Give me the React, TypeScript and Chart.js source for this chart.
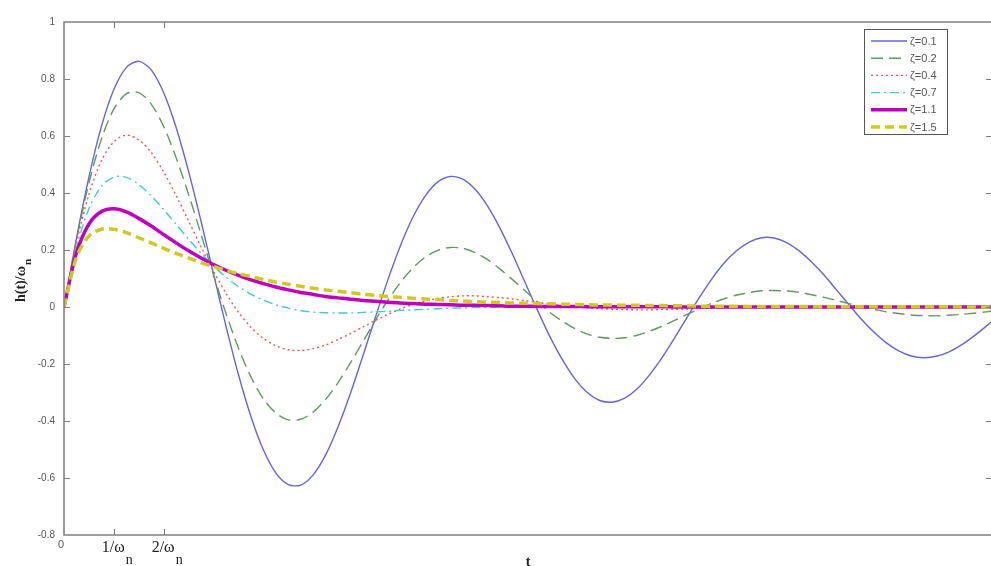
import React, { useEffect, useRef } from "react";
import { Chart, registerables } from "chart.js";

Chart.register(...registerables);

// time samples (t, with ωn = 1), one row per unit of t
const T = [
  0, 0.25, 0.5, 0.75, 1, 1.25, 1.5, 1.75, 2, 2.25, 2.5, 2.75, 3, 3.25, 3.5, 3.75,
  4, 4.25, 4.5, 4.75, 5, 5.25, 5.5, 5.75, 6, 6.25, 6.5, 6.75, 7, 7.25, 7.5, 7.75,
  8, 8.25, 8.5, 8.75, 9, 9.25, 9.5, 9.75, 10, 10.25, 10.5, 10.75, 11, 11.25, 11.5, 11.75,
  12, 12.25, 12.5, 12.75, 13, 13.25, 13.5, 13.75, 14, 14.25, 14.5, 14.75, 15, 15.25, 15.5, 15.75,
  16, 16.25, 16.5, 16.75, 17, 17.25, 17.5, 17.75, 18, 18.25, 18.5, 18.75, 19,
];

// h(t)/ωn for each damping ratio
const Z01 = [
  0, 0.241, 0.456, 0.633, 0.763, 0.84, 0.862, 0.832, 0.752, 0.63, 0.476, 0.301, 0.116, -0.067, -0.237, -0.384,
  -0.501, -0.582, -0.623, -0.625, -0.589, -0.519, -0.42, -0.302, -0.17, -0.035, 0.096, 0.215, 0.315, 0.39, 0.439, 0.458,
  0.449, 0.413, 0.354, 0.276, 0.185, 0.087, -0.011, -0.104, -0.185, -0.252, -0.3, -0.328, -0.334, -0.32, -0.287, -0.238,
  -0.178, -0.109, -0.037, 0.034, 0.099, 0.155, 0.198, 0.228, 0.243, 0.242, 0.226, 0.197, 0.158, 0.112, 0.06, 0.008,
  -0.043, -0.088, -0.126, -0.154, -0.172, -0.178, -0.173, -0.158, -0.134, -0.103, -0.068, -0.03, 0.008,
];
const Z02 = [
  0, 0.235, 0.435, 0.589, 0.694, 0.748, 0.752, 0.712, 0.633, 0.524, 0.395, 0.255, 0.113, -0.023, -0.144, -0.245,
  -0.322, -0.372, -0.396, -0.394, -0.369, -0.324, -0.265, -0.195, -0.121, -0.046, 0.024, 0.086, 0.137, 0.175, 0.199, 0.209,
  0.206, 0.191, 0.166, 0.133, 0.096, 0.057, 0.018, -0.019, -0.05, -0.076, -0.095, -0.106, -0.11, -0.108, -0.099, -0.085,
  -0.067, -0.047, -0.026, -0.006, 0.013, 0.029, 0.042, 0.051, 0.057, 0.058, 0.056, 0.051, 0.043, 0.034, 0.023, 0.012,
  0.001, -0.008, -0.017, -0.023, -0.028, -0.03, -0.031, -0.029, -0.026, -0.022, -0.017, -0.011, -0.005,
];
const Z04 = [
  0, 0.224, 0.395, 0.513, 0.58, 0.603, 0.587, 0.542, 0.474, 0.391, 0.302, 0.211, 0.125, 0.048, -0.018, -0.071,
  -0.11, -0.136, -0.15, -0.153, -0.146, -0.133, -0.114, -0.093, -0.07, -0.047, -0.026, -0.007, 0.009, 0.021, 0.03, 0.036,
  0.039, 0.039, 0.036, 0.033, 0.028, 0.022, 0.016, 0.01, 0.005, 0.001, -0.003, -0.006, -0.008, -0.009, -0.01, -0.01,
  -0.009, -0.008, -0.007, -0.005, -0.004, -0.002, -0.001, 0, 0.001, 0.002, 0.002, 0.002, 0.003, 0.002, 0.002, 0.002,
  0.002, 0.001, 0.001, 0.001, 0, 0, 0, 0, -0.001, -0.001, -0.001, -0.001, 0,
];
const Z07 = [
  0, 0.209, 0.345, 0.423, 0.456, 0.455, 0.43, 0.39, 0.342, 0.29, 0.238, 0.189, 0.144, 0.105, 0.072, 0.045,
  0.024, 0.008, -0.004, -0.013, -0.018, -0.02, -0.021, -0.021, -0.019, -0.017, -0.015, -0.012, -0.01, -0.008, -0.006, -0.004,
  -0.003, -0.002, -0.001, 0, 0, 0.001, 0.001, 0.001, 0.001, 0.001, 0.001, 0.001, 0.001, 0, 0, 0,
  0, 0, 0, 0, 0, 0, 0, 0, 0, 0, 0, 0, 0, 0, 0, 0,
  0, 0, 0, 0, 0, 0, 0, 0, 0, 0, 0, 0, 0,
];
const Z11 = [
  0, 0.19, 0.291, 0.335, 0.345, 0.334, 0.311, 0.284, 0.254, 0.225, 0.197, 0.172, 0.149, 0.129, 0.111, 0.095,
  0.082, 0.07, 0.06, 0.051, 0.044, 0.037, 0.032, 0.027, 0.023, 0.02, 0.017, 0.014, 0.012, 0.01, 0.009, 0.008,
  0.006, 0.006, 0.005, 0.004, 0.003, 0.003, 0.002, 0.002, 0.002, 0.002, 0.001, 0.001, 0.001, 0.001, 0.001, 0.001,
  0.001, 0, 0, 0, 0, 0, 0, 0, 0, 0, 0, 0, 0, 0, 0, 0,
  0, 0, 0, 0, 0, 0, 0, 0, 0, 0, 0, 0, 0,
];
const Z15 = [
  0, 0.174, 0.249, 0.273, 0.273, 0.261, 0.243, 0.225, 0.206, 0.188, 0.172, 0.156, 0.142, 0.129, 0.117, 0.107,
  0.097, 0.088, 0.08, 0.073, 0.066, 0.06, 0.055, 0.05, 0.045, 0.041, 0.037, 0.034, 0.031, 0.028, 0.026, 0.023,
  0.021, 0.019, 0.017, 0.016, 0.014, 0.013, 0.012, 0.011, 0.01, 0.009, 0.008, 0.007, 0.007, 0.006, 0.006, 0.005,
  0.005, 0.004, 0.004, 0.003, 0.003, 0.003, 0.003, 0.002, 0.002, 0.002, 0.002, 0.002, 0.001, 0.001, 0.001, 0.001,
  0.001, 0.001, 0.001, 0.001, 0.001, 0.001, 0.001, 0.001, 0, 0, 0, 0, 0,
];

const SERIES = [Z01, Z02, Z04, Z07, Z11, Z15];
const LABELS = ["ζ=0.1", "ζ=0.2", "ζ=0.4", "ζ=0.7", "ζ=1.1", "ζ=1.5"];

const Y_MIN = -0.8;
const Y_MAX = 1;
const Y_STEP = 0.2;
const X_MIN = 0;
const X_MAX = 18.6;
const X_TICKS = [0, 1, 2];
const X_TICK_MAIN = ["0", "1/ω", "2/ω"];
const X_TICK_SUB = ["", "n", "n"];
const Y_TITLE_MAIN = "h(t)/ω";
const Y_TITLE_SUB = "n";
const X_TITLE = "t";

const STYLES = [
  { color: "rgb(100,100,222)", width: 1.4, dash: [] as number[] },
  { color: "rgb(95,155,95)", width: 1.4, dash: [12, 6] },
  { color: "rgb(236,85,85)", width: 1.4, dash: [2, 3] },
  { color: "rgb(70,200,215)", width: 1.4, dash: [9, 4, 2, 4] },
  { color: "rgb(190,0,190)", width: 3.5, dash: [] as number[] },
  { color: "rgb(208,200,35)", width: 3.5, dash: [9, 5] },
];

const FRAME = "rgb(128,128,128)";
const SERIF = "'Liberation Serif', 'Times New Roman', serif";
const SANS = "'Liberation Sans', Arial, sans-serif";

const framePlugin = {
  id: "matlabFrame",
  afterDraw(chart: any) {
    const { ctx, chartArea: a, scales } = chart;
    const xs = scales.x;
    const ys = scales.y;
    ctx.save();
    // frame
    ctx.strokeStyle = FRAME;
    ctx.lineWidth = 1.6;
    ctx.setLineDash([]);
    ctx.beginPath();
    ctx.moveTo(a.right + 3, a.top);
    ctx.lineTo(a.left, a.top);
    ctx.lineTo(a.left, a.bottom);
    ctx.lineTo(a.right + 3, a.bottom);
    ctx.stroke();
    // inward ticks
    ctx.lineWidth = 1.2;
    ctx.beginPath();
    X_TICKS.forEach((v) => {
      if (v === X_MIN) return;
      const px = Math.round(xs.getPixelForValue(v)) + 0.5;
      ctx.moveTo(px, a.top);
      ctx.lineTo(px, a.top + 6);
      ctx.moveTo(px, a.bottom);
      ctx.lineTo(px, a.bottom - 6);
    });
    ys.ticks.forEach((t: any) => {
      if (Math.abs(t.value - Y_MIN) < 1e-6 || Math.abs(t.value - Y_MAX) < 1e-6) return;
      const py = Math.round(ys.getPixelForValue(t.value)) + 0.5;
      ctx.moveTo(a.left, py);
      ctx.lineTo(a.left + 6, py);
      ctx.moveTo(a.right, py);
      ctx.lineTo(a.right - 5, py);
    });
    ctx.stroke();

    // x tick labels
    X_TICKS.forEach((v, i) => {
      const px = xs.getPixelForValue(v);
      if (X_TICK_SUB[i] === "") {
        ctx.font = `11px ${SANS}`;
        ctx.fillStyle = "#555";
        ctx.textAlign = "center";
        ctx.textBaseline = "alphabetic";
        ctx.fillText(X_TICK_MAIN[i], px - 3, 548);
      } else {
        ctx.font = `16px ${SERIF}`;
        ctx.fillStyle = "#222";
        ctx.textAlign = "left";
        ctx.textBaseline = "alphabetic";
        const left = px - 12;
        ctx.fillText(X_TICK_MAIN[i], left, 552);
        const w = ctx.measureText(X_TICK_MAIN[i]).width;
        ctx.font = `14px ${SERIF}`;
        ctx.fillText(X_TICK_SUB[i], left + w + 1, 564);
      }
    });

    // x title
    ctx.font = `bold 14px ${SERIF}`;
    ctx.fillStyle = "#222";
    ctx.textAlign = "center";
    ctx.textBaseline = "alphabetic";
    ctx.fillText(X_TITLE, 528, 566);

    // y title
    ctx.save();
    ctx.translate(25, 302);
    ctx.rotate(-Math.PI / 2);
    ctx.font = `bold 14px ${SERIF}`;
    ctx.textAlign = "left";
    ctx.fillStyle = "#222";
    ctx.fillText(Y_TITLE_MAIN, 0, 0);
    const tw = ctx.measureText(Y_TITLE_MAIN).width;
    ctx.font = `bold 11px ${SERIF}`;
    ctx.fillText(Y_TITLE_SUB, tw + 1, 6);
    ctx.restore();

    // legend
    const bx = 864, by = 29, bw = 83, bh = 105;
    ctx.fillStyle = "#fff";
    ctx.fillRect(bx, by, bw, bh);
    ctx.strokeStyle = "#555";
    ctx.lineWidth = 1;
    ctx.strokeRect(bx + 0.5, by + 0.5, bw, bh);
    chart.data.datasets.forEach((ds: any, i: number) => {
      const y = by + 12 + i * 17.2;
      ctx.strokeStyle = ds.borderColor;
      ctx.lineWidth = ds.borderWidth;
      ctx.setLineDash(ds.borderDash || []);
      ctx.beginPath();
      ctx.moveTo(bx + 7, y);
      ctx.lineTo(bx + 43, y);
      ctx.stroke();
      ctx.setLineDash([]);
      ctx.font = `11px ${SANS}`;
      ctx.fillStyle = "#555";
      ctx.textAlign = "left";
      ctx.textBaseline = "middle";
      ctx.fillText(ds.label, bx + 46, y + 0.5);
    });
    ctx.restore();
  },
};

export default function App() {
  const ref = useRef<HTMLCanvasElement | null>(null);

  useEffect(() => {
    if (!ref.current) return;
    const n = SERIES.length;
    const datasets = SERIES.map((s, i) => ({
      label: LABELS[i],
      data: T.map((t, k) => ({ x: t, y: s[k] })),
      borderColor: STYLES[i].color,
      backgroundColor: STYLES[i].color,
      borderWidth: STYLES[i].width,
      borderDash: STYLES[i].dash,
      pointRadius: 0,
      fill: false,
      tension: 0.3,
      order: n - 1 - i,
    }));
    const chart = new Chart(ref.current, {
      type: "line",
      data: { datasets },
      options: {
        responsive: false,
        animation: false,
        devicePixelRatio: 1,
        layout: { padding: { top: 22, left: 0, right: 0, bottom: 0 } },
        plugins: { legend: { display: false }, tooltip: { enabled: false } },
        scales: {
          x: {
            type: "linear",
            min: X_MIN,
            max: X_MAX,
            grid: { display: false, drawTicks: false },
            border: { display: false },
            ticks: { display: false },
            afterFit: (s: any) => {
              s.height = 31;
            },
          },
          y: {
            type: "linear",
            min: Y_MIN,
            max: Y_MAX,
            grid: { display: false, drawTicks: false },
            border: { display: false },
            ticks: {
              stepSize: Y_STEP,
              padding: 9,
              color: "#555",
              font: { family: SANS, size: 10 },
              callback: (v: any) => {
                const r = Math.round(Number(v) * 10) / 10;
                if (r === 0) return "0";
                if (r === 1) return "1";
                return r.toFixed(1);
              },
            },
            afterFit: (s: any) => {
              s.width = 64;
            },
          },
        },
      } as any,
      plugins: [framePlugin],
    });
    return () => chart.destroy();
  }, []);

  return (
    <div style={{ position: "fixed", left: 0, top: 0, width: 991, height: 566, background: "#fff" }}>
      <canvas ref={ref} width={991} height={566} style={{ display: "block", width: 991, height: 566 }} />
    </div>
  );
}
